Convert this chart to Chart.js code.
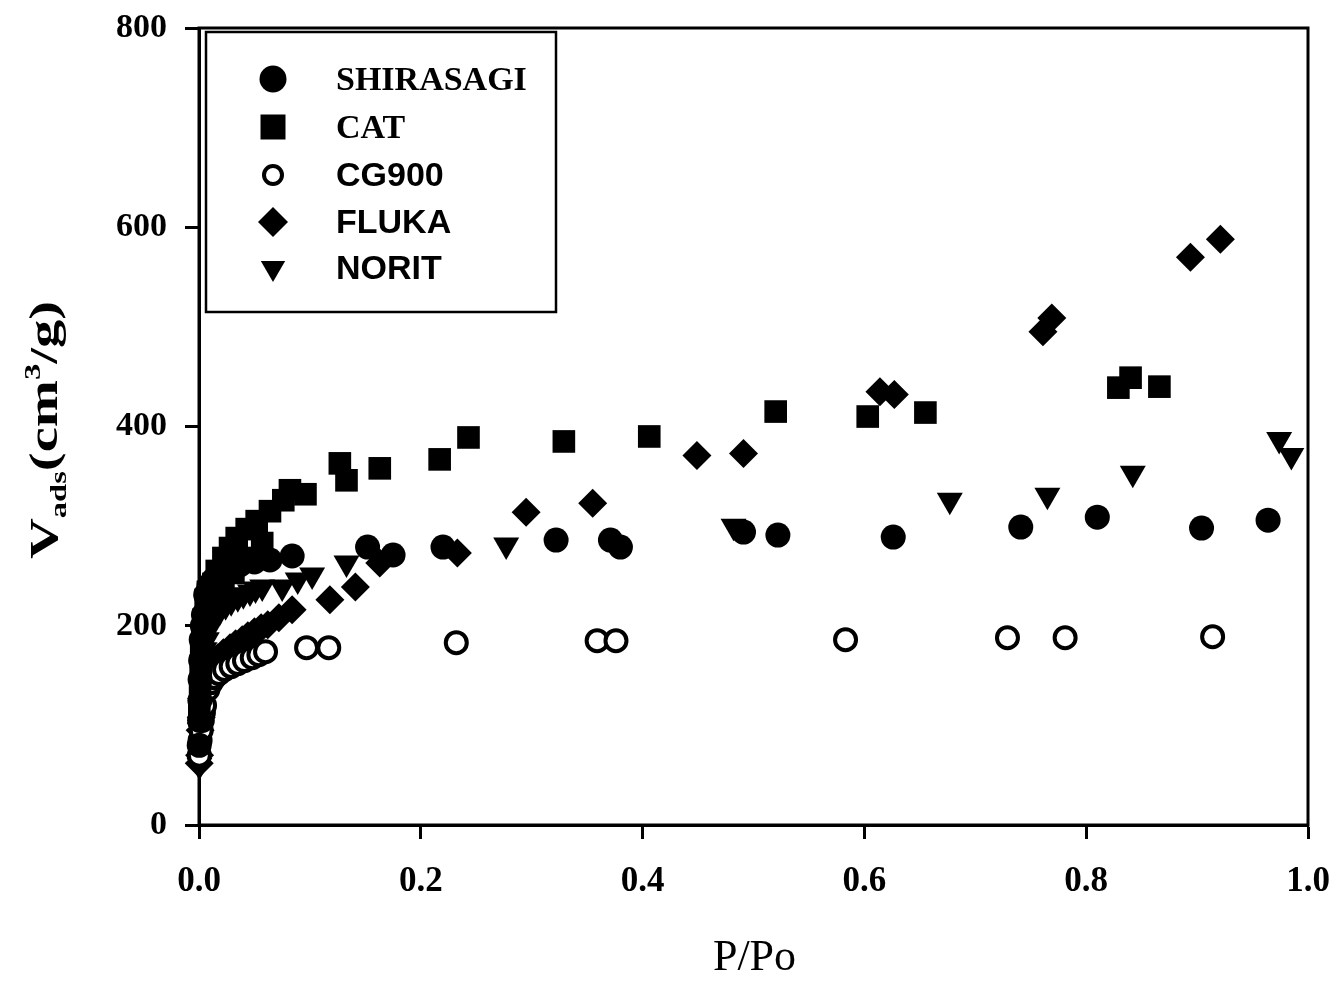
<!DOCTYPE html>
<html>
<head>
<meta charset="utf-8">
<title>Adsorption isotherms</title>
<script src="https://cdn.jsdelivr.net/npm/chart.js@4.4.0/dist/chart.umd.min.js"></script>
<style>
  html, body { margin: 0; padding: 0; background: #fff; }
  #wrap { width: 1339px; height: 982px; }
</style>
</head>
<body>
<div id="wrap"><canvas id="isoChart" width="1339" height="982"></canvas></div>
<script>
// P/Po and adsorbed volume (cm3/g) for each carbon
const shirasagiX = [0.0002, 0.0005, 0.0008, 0.001, 0.0015, 0.002, 0.003, 0.004, 0.006, 0.009, 0.013, 0.023, 0.037, 0.050, 0.064, 0.084, 0.152, 0.175, 0.220, 0.322, 0.371, 0.380, 0.491, 0.522, 0.626, 0.741, 0.810, 0.904, 0.964];
const shirasagiY = [80, 105, 125, 146, 165, 186, 200, 211, 231, 240, 246, 256, 261, 264, 266, 270, 279, 271, 279, 286, 286, 279, 294, 291, 289, 299, 309, 298, 306];

const catX = [0.0003, 0.001, 0.0015, 0.002, 0.003, 0.004, 0.006, 0.008, 0.013, 0.016, 0.022, 0.022, 0.028, 0.031, 0.034, 0.042, 0.043, 0.052, 0.057, 0.064, 0.076, 0.082, 0.096, 0.127, 0.133, 0.163, 0.217, 0.243, 0.329, 0.406, 0.520, 0.603, 0.655, 0.829, 0.840, 0.866];
const catY = [110, 136, 160, 176, 192, 206, 226, 234, 242, 255, 268, 236, 278, 253, 288, 268, 297, 305, 283, 315, 326, 336, 332, 363, 346, 358, 367, 389, 385, 390, 415, 410, 414, 439, 449, 440];

const cg900X = [0.0003, 0.001, 0.002, 0.003, 0.004, 0.005, 0.008, 0.011, 0.014, 0.018, 0.023, 0.029, 0.035, 0.041, 0.048, 0.054, 0.060, 0.097, 0.117, 0.232, 0.359, 0.376, 0.583, 0.729, 0.781, 0.914];
const cg900Y = [70, 85, 95, 105, 113, 120, 136, 143, 148, 152, 156, 159, 162, 165, 168, 171, 174, 178, 178, 183, 185, 185, 186, 188, 188, 189];

const flukaX = [0.0002, 0.0005, 0.001, 0.002, 0.003, 0.005, 0.007, 0.010, 0.013, 0.017, 0.022, 0.028, 0.033, 0.039, 0.044, 0.050, 0.056, 0.062, 0.072, 0.084, 0.118, 0.141, 0.163, 0.233, 0.295, 0.355, 0.449, 0.491, 0.614, 0.627, 0.761, 0.769, 0.894, 0.921];
const flukaY = [62, 70, 95, 108, 120, 141, 148, 156, 162, 168, 173, 178, 182, 186, 190, 194, 198, 201, 208, 216, 226, 239, 263, 273, 314, 323, 371, 373, 435, 432, 495, 509, 570, 588];

const noritX = [0.0004, 0.0007, 0.001, 0.002, 0.003, 0.005, 0.007, 0.009, 0.012, 0.015, 0.019, 0.024, 0.029, 0.035, 0.040, 0.046, 0.051, 0.057, 0.075, 0.089, 0.102, 0.133, 0.277, 0.482, 0.677, 0.765, 0.842, 0.974, 0.985];
const noritY = [60, 95, 120, 138, 151, 176, 186, 196, 204, 210, 215, 220, 224, 228, 231, 234, 237, 239, 239, 246, 251, 263, 281, 300, 326, 331, 353, 387, 371];

const xTicks = [0, 0.2, 0.4, 0.6, 0.8, 1.0];
const yTicks = [0, 200, 400, 600, 800];

const SERIF = '"Liberation Serif", "Times New Roman", serif';
const SANS = '"Liberation Sans", Arial, sans-serif';

// where the plot frame should sit on the canvas
const AREA = { left: 199, top: 28, right: 1308, bottom: 825 };

function pairs(xs, ys) {
    return xs.map((x, i) => ({ x: x, y: ys[i] }));
}

// legend entries: marker look + font of the label
const legendItems = [
    { text: 'SHIRASAGI', style: 'circle', size: 13.5, fill: '#000', font: 'bold 34px ' + SERIF },
    { text: 'CAT', style: 'square', size: 12.5, fill: '#000', font: 'bold 34px ' + SERIF },
    { text: 'CG900', style: 'open', size: 9, fill: '#fff', font: 'bold 34px ' + SANS },
    { text: 'FLUKA', style: 'diamond', size: 15, fill: '#000', font: 'bold 34px ' + SANS },
    { text: 'NORIT', style: 'down', size: 14, fill: '#000', font: 'bold 34px ' + SANS }
];

function drawMarker(ctx, item, x, y) {
    const r = item.size;
    ctx.save();
    ctx.fillStyle = item.fill;
    ctx.strokeStyle = '#000';
    ctx.beginPath();
    if (item.style === 'circle' || item.style === 'open') {
        ctx.arc(x, y, r, 0, Math.PI * 2);
    } else if (item.style === 'square') {
        ctx.rect(x - r, y - r, 2 * r, 2 * r);
    } else if (item.style === 'diamond') {
        ctx.moveTo(x, y - r); ctx.lineTo(x + r, y); ctx.lineTo(x, y + r); ctx.lineTo(x - r, y);
        ctx.closePath();
    } else if (item.style === 'down') {
        ctx.moveTo(x - r * 0.87, y - r * 0.5); ctx.lineTo(x + r * 0.87, y - r * 0.5); ctx.lineTo(x, y + r);
        ctx.closePath();
    }
    ctx.fill();
    if (item.style === 'open') { ctx.lineWidth = 4; ctx.stroke(); }
    ctx.restore();
}

const decor = {
    id: 'decor',
    beforeDatasetsDraw(chart) {
        const { ctx, chartArea: a } = chart;
        ctx.save();
        ctx.strokeStyle = '#000';
        ctx.lineWidth = 3;
        ctx.strokeRect(a.left, a.top, a.right - a.left, a.bottom - a.top);
        ctx.restore();
    },
    afterDraw(chart) {
        const { ctx, chartArea: a } = chart;
        ctx.save();
        ctx.fillStyle = '#000';

        // x axis title
        ctx.font = '44px ' + SERIF;
        ctx.textAlign = 'center';
        ctx.textBaseline = 'middle';
        ctx.fillText('P/Po', (a.left + a.right) / 2 + 1, 958);

        // y axis title: V_ads(cm^3/g), rotated, stretched along its length
        const parts = [
            { t: 'V', font: 'bold 40px ' + SERIF, dy: 0 },
            { t: 'ads', font: 'bold 23px ' + SERIF, dy: 9 },
            { t: '(cm', font: 'bold 40px ' + SERIF, dy: 0 },
            { t: '3', font: 'bold 23px ' + SERIF, dy: -17 },
            { t: '/g)', font: 'bold 40px ' + SERIF, dy: 0 }
        ];
        let total = 0;
        parts.forEach(p => { ctx.font = p.font; p.w = ctx.measureText(p.t).width; total += p.w; });
        const stretch = 258 / total;
        ctx.translate(44, 430);
        ctx.rotate(-Math.PI / 2);
        ctx.scale(stretch, 1);
        ctx.textAlign = 'left';
        ctx.textBaseline = 'alphabetic';
        let cx = -total / 2;
        parts.forEach(p => {
            ctx.font = p.font;
            ctx.fillText(p.t, cx, 13 + p.dy);
            cx += p.w;
        });
        ctx.restore();

        // legend box
        ctx.save();
        ctx.fillStyle = '#fff';
        ctx.fillRect(206, 32, 350, 280);
        ctx.strokeStyle = '#000';
        ctx.lineWidth = 2.5;
        ctx.strokeRect(206, 32, 350, 280);
        const rows = [79, 127, 175, 222, 268];
        legendItems.forEach((item, i) => {
            drawMarker(ctx, item, 273, rows[i]);
            ctx.fillStyle = '#000';
            ctx.font = item.font;
            ctx.textAlign = 'left';
            ctx.textBaseline = 'middle';
            ctx.fillText(item.text, 336, rows[i] + 2);
        });
        ctx.restore();
    }
};

// pin the chart area to the frame position of the reference
const pinArea = {
    id: 'pinArea',
    afterLayout(chart) {
        const a = chart.chartArea;
        a.left = AREA.left; a.top = AREA.top; a.right = AREA.right; a.bottom = AREA.bottom;
        a.width = a.right - a.left; a.height = a.bottom - a.top;
        const xs = chart.scales.x, ys = chart.scales.y;
        xs.left = AREA.left; xs.right = AREA.right; xs.width = AREA.right - AREA.left;
        xs.top = AREA.bottom; xs.bottom = 982;
        ys.top = AREA.top; ys.bottom = AREA.bottom; ys.height = AREA.bottom - AREA.top;
        ys.left = 0; ys.right = AREA.left;
        xs.configure(); ys.configure();
    }
};

const ctx = document.getElementById('isoChart').getContext('2d');

const isoChart = new Chart(ctx, {
    type: 'scatter',
    data: {
        datasets: [
            { label: 'SHIRASAGI', data: pairs(shirasagiX, shirasagiY), pointStyle: 'circle', pointRadius: 12.5,
              backgroundColor: '#000', borderColor: '#000', borderWidth: 0, clip: false },
            { label: 'CAT', data: pairs(catX, catY), pointStyle: 'rect', pointRadius: 16,
              backgroundColor: '#000', borderColor: '#000', borderWidth: 0, clip: false },
            { label: 'CG900', data: pairs(cg900X, cg900Y), pointStyle: 'circle', pointRadius: 10.5,
              backgroundColor: '#fff', borderColor: '#000', borderWidth: 4, clip: false },
            { label: 'FLUKA', data: pairs(flukaX, flukaY), pointStyle: 'rectRot', pointRadius: 14.5,
              backgroundColor: '#000', borderColor: '#000', borderWidth: 0, clip: false },
            { label: 'NORIT', data: pairs(noritX, noritY), pointStyle: 'triangle', rotation: 180, pointRadius: 15,
              backgroundColor: '#000', borderColor: '#000', borderWidth: 0, clip: false }
        ]
    },
    options: {
        responsive: false,
        animation: false,
        layout: { padding: { top: 28, right: 31, left: 0, bottom: 0 } },
        plugins: {
            legend: { display: false },
            tooltip: { enabled: false }
        },
        scales: {
            x: {
                type: 'linear',
                min: 0,
                max: 1,
                afterBuildTicks: s => { s.ticks = xTicks.map(v => ({ value: v })); },
                afterFit: s => { s.height = 157; },
                ticks: {
                    callback: v => v.toFixed(1),
                    color: '#000',
                    padding: 22,
                    maxRotation: 0,
                    font: { family: SERIF, size: 35, weight: 'bold' }
                },
                grid: { drawOnChartArea: false, drawTicks: true, tickLength: 14, tickWidth: 3, tickColor: '#000' },
                border: { display: true, color: '#000', width: 3 }
            },
            y: {
                type: 'linear',
                min: 0,
                max: 800,
                afterBuildTicks: s => { s.ticks = yTicks.map(v => ({ value: v })); },
                afterFit: s => { s.width = 199; },
                ticks: {
                    color: '#000',
                    padding: 18,
                    font: { family: SERIF, size: 34, weight: 'bold' }
                },
                grid: { drawOnChartArea: false, drawTicks: true, tickLength: 14, tickWidth: 3, tickColor: '#000' },
                border: { display: true, color: '#000', width: 3 }
            }
        }
    },
    plugins: [pinArea, decor]
});
</script>
</body>
</html>
